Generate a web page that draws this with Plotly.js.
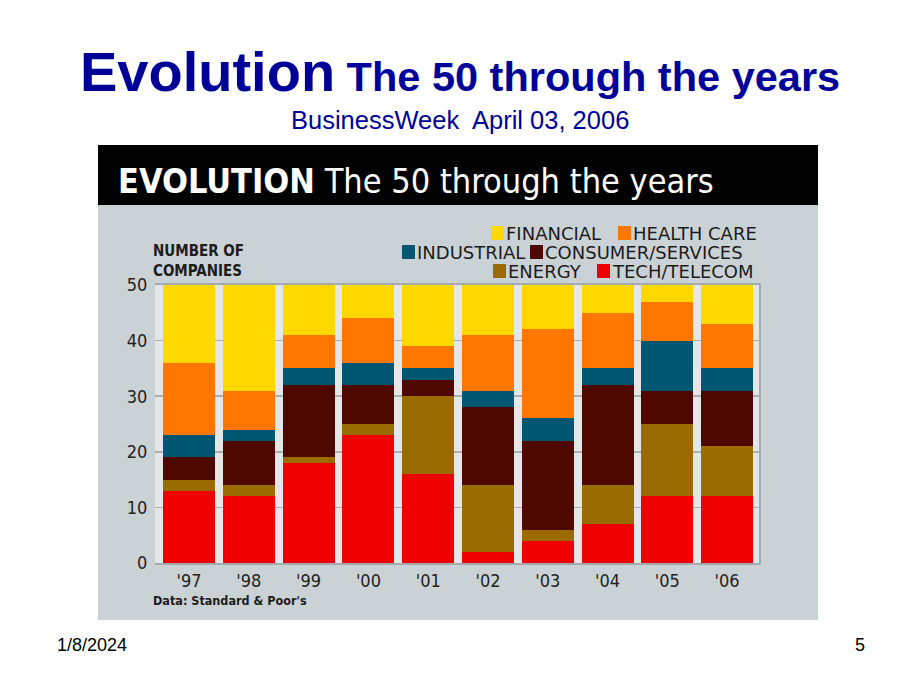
<!DOCTYPE html>
<html>
<head>
<meta charset="utf-8">
<script src="https://cdn.plot.ly/plotly-3.0.1.min.js"></script>
<style>html,body{margin:0;padding:0;background:#fff;}#chart{width:920px;height:690px;}</style>
</head>
<body>
<div id="chart"></div>
<script>
// ---- data ----
const years = ["'97", "'98", "'99", "'00", "'01", "'02", "'03", "'04", "'05", "'06"];
const tech       = [13, 12, 18, 23, 16,  2,  4,  7, 12, 12];
const energy     = [ 2,  2,  1,  2, 14, 12,  2,  7, 13,  9];
const consumer   = [ 4,  8, 13,  7,  3, 14, 16, 18,  6, 10];
const industrial = [ 4,  2,  3,  4,  2,  3,  4,  3,  9,  4];
const health     = [13,  7,  6,  8,  4, 10, 16, 10,  7,  8];
const financial  = [14, 19,  9,  6, 11,  9,  8,  5,  3,  7];
const seriesNames = ["TECH/TELECOM", "ENERGY", "CONSUMER/SERVICES", "INDUSTRIAL", "HEALTH CARE", "FINANCIAL"];
const yTicks = [0, 10, 20, 30, 40, 50];

// ---- styling ----
const colors = {
  "TECH/TELECOM": "#ee0000",
  "ENERGY": "#9a6c00",
  "CONSUMER/SERVICES": "#4e0800",
  "INDUSTRIAL": "#015772",
  "HEALTH CARE": "#ff7700",
  "FINANCIAL": "#ffd800"
};
const seriesValues = [tech, energy, consumer, industrial, health, financial];
const W = 920, H = 690;
const px = x => x / W;
const py = y => 1 - y / H;
const narrow = "Liberation Sans Narrow, DejaVu Sans Condensed, Arial Narrow, sans-serif";

const traces = seriesNames.map((n, i) => ({
  type: 'bar', name: n, x: years, y: seriesValues[i],
  marker: {color: colors[n], line: {width: 0}},
  showlegend: false, hoverinfo: 'skip'
}));

// custom legend layout (positions in pixels)
const legendItems = [
  {name: "FINANCIAL", sx: 491, row: 233},
  {name: "HEALTH CARE", sx: 618, row: 233},
  {name: "INDUSTRIAL", sx: 402, row: 252},
  {name: "CONSUMER/SERVICES", sx: 530, row: 252},
  {name: "ENERGY", sx: 493, row: 271},
  {name: "TECH/TELECOM", sx: 597, row: 271}
];

const shapes = [
  {type: 'rect', xref: 'paper', yref: 'paper', x0: px(98), x1: px(818), y0: py(620), y1: py(145),
   fillcolor: '#cbd2d5', line: {width: 0}, layer: 'below'},
  {type: 'rect', xref: 'paper', yref: 'paper', x0: px(98), x1: px(818), y0: py(205), y1: py(145),
   fillcolor: '#000000', line: {width: 0}, layer: 'below'},
  {type: 'rect', xref: 'paper', yref: 'paper', x0: px(155), x1: px(760), y0: py(563), y1: py(285),
   fillcolor: '#e4e6e8', line: {width: 0}, layer: 'below'},
  {type: 'line', xref: 'paper', yref: 'paper', x0: px(760), x1: px(760), y0: py(564), y1: py(284),
   line: {color: '#a4abaf', width: 2}, layer: 'above'}
];
const annotations = [];
legendItems.forEach(it => {
  shapes.push({type: 'rect', xref: 'paper', yref: 'paper', x0: px(it.sx), x1: px(it.sx + 13),
    y0: py(it.row + 7), y1: py(it.row - 7), fillcolor: colors[it.name], line: {width: 0}, layer: 'above'});
  annotations.push({xref: 'paper', yref: 'paper', x: px(it.sx + 13), y: py(it.row), xanchor: 'left', yanchor: 'middle',
    text: it.name, showarrow: false, font: {family: 'DejaVu Sans, sans-serif', size: 18, color: '#1c1c1c'}});
});

annotations.push(
  {xref: 'paper', yref: 'paper', x: px(460), y: py(71), xanchor: 'center', yanchor: 'middle', showarrow: false,
   text: "<b><span style='font-size:56px'>Evolution</span> The 50 through the years</b>",
   font: {family: 'Liberation Sans, Arial, sans-serif', size: 41.5, color: '#000099'}},
  {xref: 'paper', yref: 'paper', x: px(460), y: py(120), xanchor: 'center', yanchor: 'middle', showarrow: false,
   text: "BusinessWeek\u00a0 April 03, 2006",
   font: {family: 'Liberation Sans, Arial, sans-serif', size: 25.5, color: '#000099'}},
  {xref: 'paper', yref: 'paper', x: px(116), y: py(181), xanchor: 'left', yanchor: 'middle', showarrow: false,
   text: "<b>EVOLUTION</b> The 50 through the years",
   font: {family: narrow, size: 34, color: '#ffffff'}},
  {xref: 'paper', yref: 'paper', x: px(151), y: py(261), xanchor: 'left', yanchor: 'middle', showarrow: false,
   align: 'left', text: "<b>NUMBER OF<br>COMPANIES</b>",
   font: {family: narrow, size: 15, color: '#1c1c1c'}},
  {xref: 'paper', yref: 'paper', x: px(151), y: py(600), xanchor: 'left', yanchor: 'middle', showarrow: false,
   text: "<b>Data: Standard &amp; Poor's</b>",
   font: {family: narrow, size: 12.5, color: '#1c1c1c'}},
  {xref: 'paper', yref: 'paper', x: px(55), y: py(645), xanchor: 'left', yanchor: 'middle', showarrow: false,
   text: "1/8/2024", font: {family: 'Liberation Sans, Arial, sans-serif', size: 18, color: '#000000'}},
  {xref: 'paper', yref: 'paper', x: px(867), y: py(645), xanchor: 'right', yanchor: 'middle', showarrow: false,
   text: "5", font: {family: 'Liberation Sans, Arial, sans-serif', size: 18, color: '#000000'}}
);

const layout = {
  width: W, height: H,
  margin: {l: 0, r: 0, t: 0, b: 0, pad: 0},
  paper_bgcolor: '#ffffff', plot_bgcolor: 'rgba(0,0,0,0)',
  barmode: 'stack', bargap: 0.13,
  xaxis: {domain: [px(155), px(760)], range: [-0.57, 9.55], type: 'category',
    showgrid: false, zeroline: false, showline: true, mirror: true, linecolor: '#a4abaf', linewidth: 2,
    ticks: '', ticklen: 0,
    tickfont: {family: narrow, size: 18, color: '#222222'}, fixedrange: true},
  yaxis: {domain: [py(563), py(285)], range: [0, 50], tickvals: yTicks,
    showgrid: true, gridcolor: '#a9b0b4', gridwidth: 1.5, zeroline: false, showline: false,
    ticks: 'outside', ticklen: 3, tickcolor: 'rgba(0,0,0,0)',
    tickfont: {family: narrow, size: 18, color: '#222222'}, fixedrange: true},
  shapes: shapes, annotations: annotations
};
Plotly.newPlot('chart', traces, layout, {staticPlot: true, displayModeBar: false});
</script>
</body>
</html>
